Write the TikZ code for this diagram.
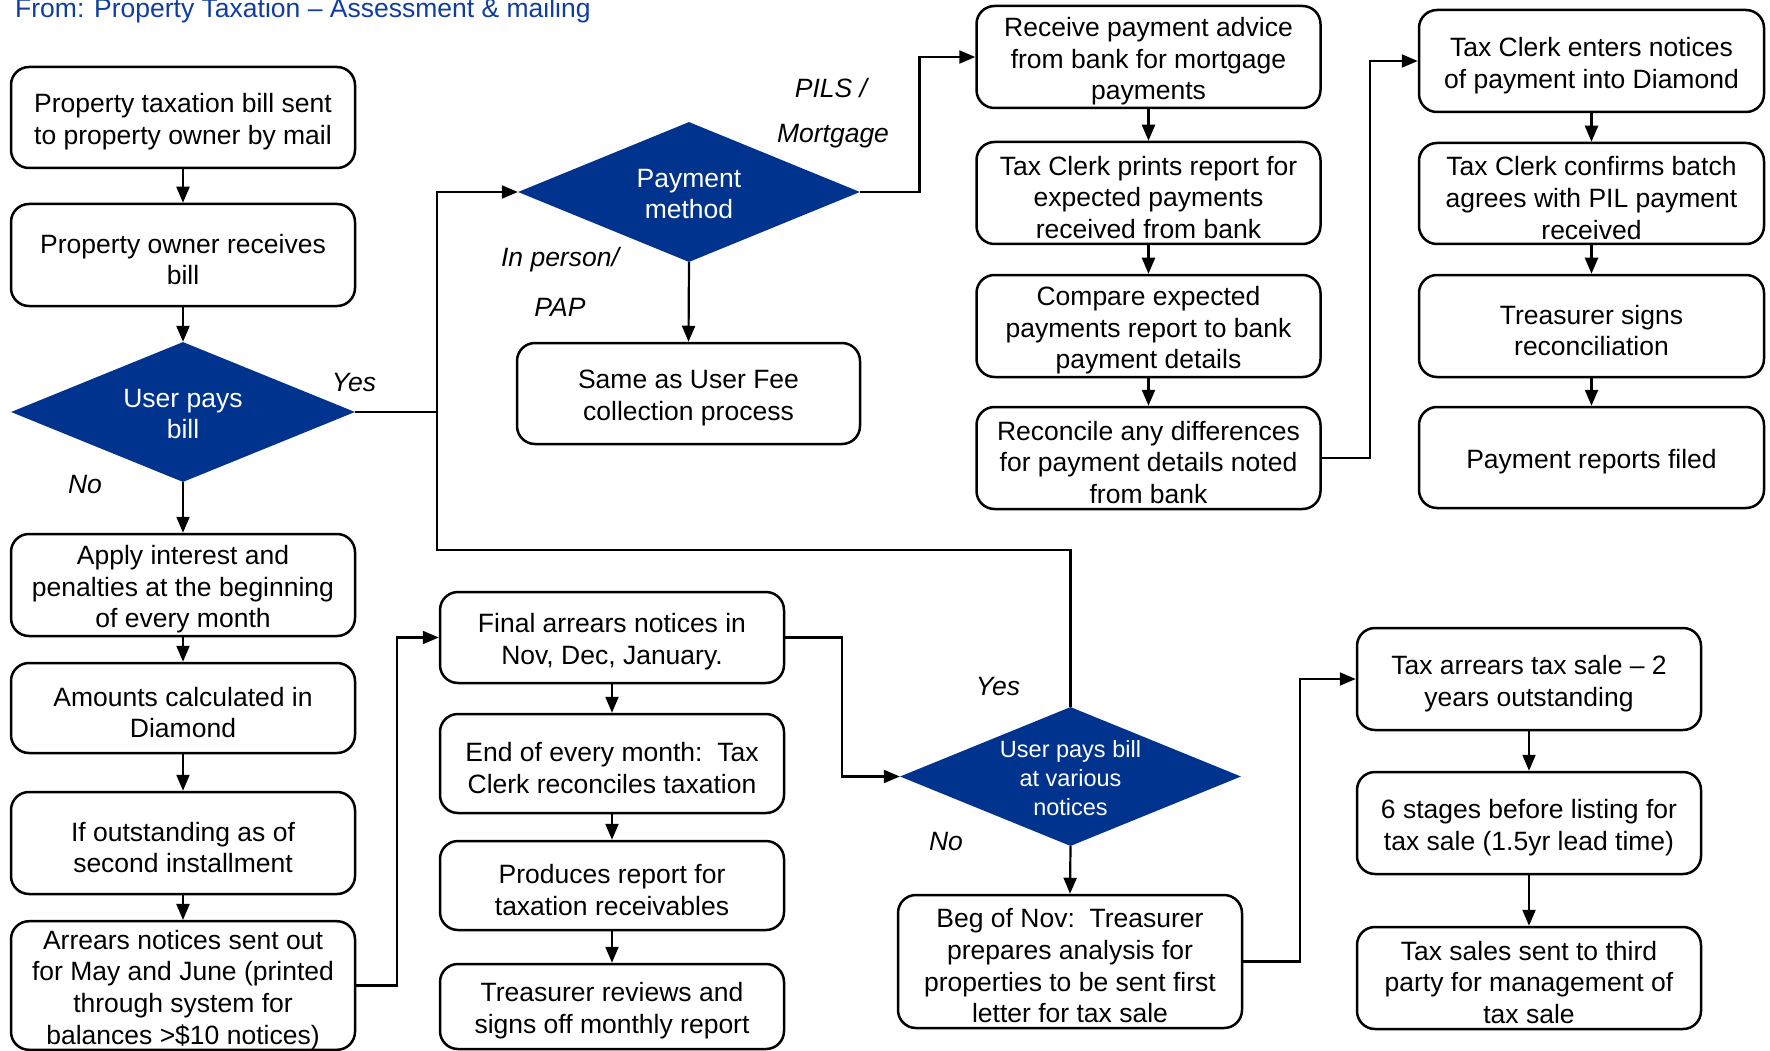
\documentclass[tikz,border=0pt]{standalone}
\usepackage{fontspec}
\setmainfont{Liberation Sans}
\usetikzlibrary{shapes.geometric,arrows.meta}
\definecolor{kblue}{RGB}{0,51,141}
\definecolor{tblue}{RGB}{16,62,160}
\newcommand{\msz}{\fontsize{26.5}{31.7}\selectfont}
\newcommand{\ssz}{\fontsize{23.5}{29}\selectfont}
\newcommand{\mystrut}{\rule{0pt}{28pt}}
\begin{document}
\begin{tikzpicture}[x=1pt,y=-1pt,
  box/.style={draw, rounded corners=18pt, line width=2.5pt, minimum width=344pt, align=center, inner sep=0pt, font=\msz},
  dia/.style={diamond, fill=kblue, inner sep=0pt, minimum width=343pt, minimum height=140pt},
  dlbl/.style={text=white, align=center, font=\msz, inner sep=0pt, yshift=-2pt},
  slbl/.style={text=white, align=center, font=\ssz, inner sep=0pt, yshift=-2pt},
  conn/.style={line width=2.2pt, -{Triangle[length=16pt,width=13pt]}},
  plain/.style={line width=2.2pt},
  lbl/.style={font=\msz\itshape, inner sep=0pt, yshift=-2pt}]
\useasboundingbox (0,0) rectangle (1770,1051);
\fill[white] (0,0) rectangle (1770,1051);

\node[anchor=base west, text=tblue, font=\msz, inner sep=0pt] (title) at (15,17.3) {From: Property Taxation – Assessment \& mailing};

% left column
\node[box, minimum height=101pt] (A) at (183,117.5) {\mystrut Property taxation bill sent\\to property owner by mail};
\node[box, minimum height=102pt] (B) at (183,255) {\mystrut Property owner receives\\bill};
\node[dia, minimum width=344pt, label={[dlbl]center:{User pays\\bill}}] (U1) at (183,412) {};
\node[box, minimum height=102pt] (E1) at (183,585) {\mystrut Apply interest and\\penalties at the beginning\\of every month};
\node[box, minimum height=90pt] (E2) at (183,708) {\mystrut Amounts calculated in\\Diamond};
\node[box, minimum height=102pt] (E3) at (183,843) {\mystrut If outstanding as of\\second installment};
\node[box, minimum height=127pt] (E4) at (183,985.5) {\mystrut Arrears notices sent out\\for May and June (printed\\through system for\\balances >\$10 notices)};

% payment method
\node[dia, minimum width=342pt, label={[dlbl]center:{Payment\\method}}] (P) at (689,192) {};
\node[box, minimum width=343pt, minimum height=101pt] (S) at (688.5,393.5) {\mystrut Same as User Fee\\collection process};

% column C
\node[box, minimum height=102pt] (C1) at (1148.5,57) {\mystrut Receive payment advice\\from bank for mortgage\\payments};
\node[box, minimum height=102pt] (C2) at (1148.5,193) {\mystrut Tax Clerk prints report for\\expected payments\\received from bank};
\node[box, minimum height=102pt] (C3) at (1148.5,326) {\mystrut Compare expected\\payments report to bank\\payment details};
\node[box, minimum height=102pt] (C4) at (1148.5,458) {\mystrut Reconcile any differences\\for payment details noted\\from bank};

% column D
\node[box, minimum width=345pt, minimum height=102pt] (D1) at (1591.5,61) {\mystrut Tax Clerk enters notices\\of payment into Diamond};
\node[box, minimum width=345pt, minimum height=101pt] (D2) at (1591.5,193.5) {\mystrut Tax Clerk confirms batch\\agrees with PIL payment\\received};
\node[box, minimum width=345pt, minimum height=102pt] (D3) at (1591.5,326) {\mystrut Treasurer signs\\reconciliation};
\node[box, minimum width=345pt, minimum height=101pt] (D4) at (1591.5,457.5) {\mystrut Payment reports filed};

% column F
\node[box, minimum height=91pt] (F1) at (612,637.5) {\mystrut Final arrears notices in\\Nov, Dec, January.};
\node[box, minimum height=99pt] (F2) at (612,763.5) {\mystrut End of every month:\ \ Tax\\Clerk reconciles taxation};
\node[box, minimum height=89pt] (F3) at (612,885.5) {\mystrut Produces report for\\taxation receivables};
\node[box, minimum height=85pt] (F4) at (612,1006.5) {\mystrut Treasurer reviews and\\signs off monthly report};

% diamond G and H
\node[dia, minimum width=341pt, minimum height=139pt, label={[slbl]center:{User pays bill\\at various\\notices}}] (G) at (1070.5,776.5) {};
\node[box, minimum height=133pt] (H) at (1070,961.5) {\mystrut Beg of Nov:\ \ Treasurer\\prepares analysis for\\properties to be sent first\\letter for tax sale};

% column I
\node[box, minimum height=102pt] (I1) at (1529,679) {\mystrut Tax arrears tax sale – 2\\years outstanding};
\node[box, minimum height=102pt] (I2) at (1529,823) {\mystrut 6 stages before listing for\\tax sale (1.5yr lead time)};
\node[box, minimum height=102pt] (I3) at (1529,978) {\mystrut Tax sales sent to third\\party for management of\\tax sale};

% labels
\node[lbl] (yes1) at (354,381) {Yes};
\node[lbl] (no1) at (85,483) {No};
\node[lbl] (pils) at (831,86) {PILS /};
\node[lbl] (mort) at (833,134) {Mortgage};
\node[lbl] (inp) at (560,258) {In person/};
\node[lbl] (pap) at (560,305) {PAP};
\node[lbl] (yes2) at (998,685) {Yes};
\node[lbl] (no2) at (946,840) {No};

% coordinates
\coordinate (j1) at (437,412);
\coordinate (j2) at (437,550);
\coordinate (k1) at (919.5,192);
\coordinate (k2) at (1370,458);
\coordinate (k3) at (397,985.5);
\coordinate (k4) at (842,637.5);
\coordinate (k5) at (1300,961.5);

% connectors
\draw[conn] (A.south) -- (B.north);
\draw[conn] (B.south) -- (U1.north);
\draw[conn] (U1.south) -- (E1.north);
\draw[conn] (E1.south) -- (E2.north);
\draw[conn] (E2.south) -- (E3.north);
\draw[conn] (E3.south) -- (E4.north);
\draw[plain] (U1.east) -- (j1);
\draw[conn] (j1) |- (P.west);
\draw[plain] (j1) -- (j2) -| (G.north);
\draw[conn] (P.east) -- (k1) |- (C1.west);
\draw[conn] (P.south) -- (S.north);
\draw[conn] (C1.south) -- (C2.north);
\draw[conn] (C2.south) -- (C3.north);
\draw[conn] (C3.south) -- (C4.north);
\draw[conn] (C4.east) -- (k2) |- (D1.west);
\draw[conn] (D1.south) -- (D2.north);
\draw[conn] (D2.south) -- (D3.north);
\draw[conn] (D3.south) -- (D4.north);
\draw[conn] (E4.east) -- (k3) |- (F1.west);
\draw[conn] (F1.south) -- (F2.north);
\draw[conn] (F2.south) -- (F3.north);
\draw[conn] (F3.south) -- (F4.north);
\draw[conn] (F1.east) -- (k4) |- (G.west);
\draw[conn] (G.south) -- (H.north);
\draw[conn] (H.east) -- (k5) |- (I1.west);
\draw[conn] (I1.south) -- (I2.north);
\draw[conn] (I2.south) -- (I3.north);
\end{tikzpicture}
\end{document}
